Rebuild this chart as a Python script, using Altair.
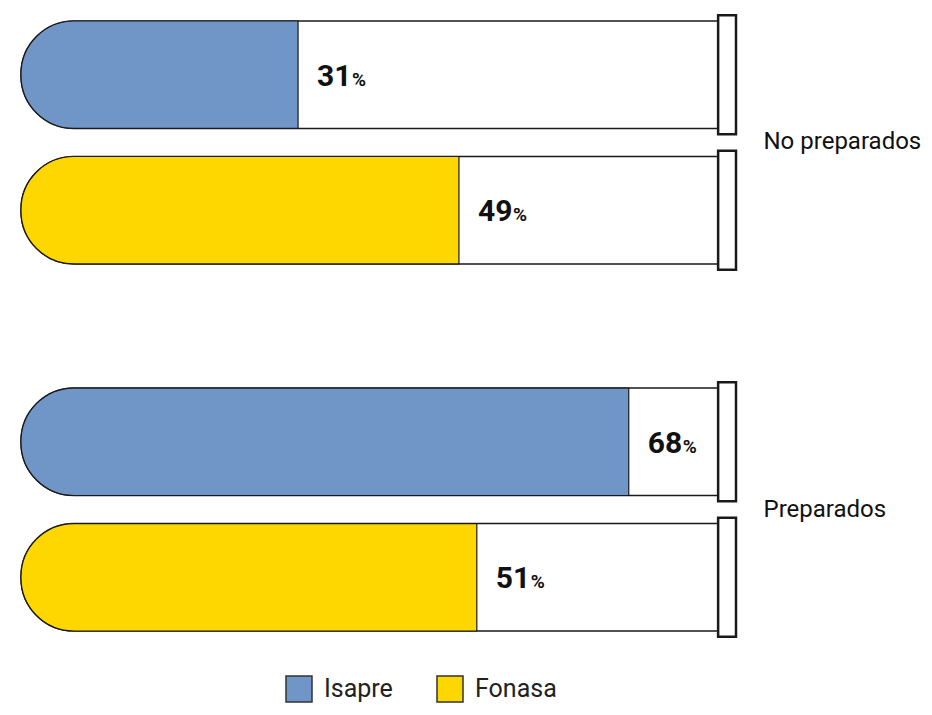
import altair as alt
import pandas as pd

# ---- data ----
groups = ["No preparados", "No preparados", "Preparados", "Preparados"]
series = ["Isapre", "Fonasa", "Isapre", "Fonasa"]
values = [31, 49, 68, 51]

group_order = ["No preparados", "Preparados"]
series_order = ["Isapre", "Fonasa"]
colors = ["#7096C8", "#FED600"]

df = pd.DataFrame({"group": groups, "series": series, "value": values})
df["label"] = df["value"].astype(str)

FONT = "Roboto, Liberation Sans, sans-serif"
X_MAX = 80      # end of drawing area (cap end)
TUBE_END = 78   # end of the tube body
INK = "#1a1a1a"

x_scale = alt.Scale(domain=[0, X_MAX], nice=False, zero=True)

y_enc = alt.Y(
    "group:N",
    sort=group_order,
    scale=alt.Scale(paddingInner=0.338, paddingOuter=0),
    axis=alt.Axis(
        orient="right", title=None, domain=False, ticks=False,
        labelPadding=27, labelFontSize=24, labelFont=FONT,
        labelColor="#111111", labelAlign="left", labelBaseline="middle",
        labelLimit=400,
    ),
)
yoff = alt.YOffset(
    "series:N", sort=series_order,
    scale=alt.Scale(paddingInner=0.207, paddingOuter=0),
)

base = alt.Chart(df).transform_calculate(
    zero="0", tube_end=str(TUBE_END), cap_end=str(X_MAX)
).encode(y=y_enc, yOffset=yoff)

tube = base.mark_bar(
    color="white", stroke=INK, strokeWidth=1.6,
    cornerRadiusTopLeft=53, cornerRadiusBottomLeft=53,
).encode(
    x=alt.X("zero:Q", scale=x_scale, axis=None),
    x2="tube_end:Q",
)

fill = base.mark_bar(
    stroke=INK, strokeWidth=1.2,
    cornerRadiusTopLeft=53, cornerRadiusBottomLeft=53,
).encode(
    x=alt.X("zero:Q", scale=x_scale, axis=None),
    x2="value:Q",
    color=alt.Color(
        "series:N", sort=series_order,
        scale=alt.Scale(domain=series_order, range=colors),
        legend=alt.Legend(
            orient="none", legendX=264, legendY=654, direction="horizontal",
            title=None, symbolType="square", symbolSize=676,
            symbolStrokeColor="#333333", symbolStrokeWidth=1.5,
            labelFont=FONT, labelFontSize=25, labelColor="#222222",
            columnPadding=41, labelOffset=11, padding=0,
        ),
    ),
)

cap = base.mark_bar(
    height=119, color="white", stroke=INK, strokeWidth=2.5,
).encode(
    x=alt.X("tube_end:Q", scale=x_scale, axis=None),
    x2="cap_end:Q",
)

num = base.mark_text(
    align="left", baseline="alphabetic", dx=19, dy=11,
    fontSize=30, fontWeight="bold", font=FONT, color="#111111",
).encode(x=alt.X("value:Q", scale=x_scale, axis=None), text="label:N")

pct = base.mark_text(
    align="left", baseline="alphabetic", dx=54, dy=11,
    fontSize=19, fontWeight="bold", font=FONT, color="#111111",
).encode(x=alt.X("value:Q", scale=x_scale, axis=None), text=alt.value("%"))

chart = alt.layer(tube, fill, cap, num, pct).properties(
    width=715, height=610, background="white",
    padding={"left": 13, "top": 13, "right": 188, "bottom": 73},
    autosize=alt.AutoSizeParams(type="none"),
).configure_view(strokeWidth=0, stroke="transparent")

chart.save("out.html", embed_options={"renderer": "svg", "actions": False})
